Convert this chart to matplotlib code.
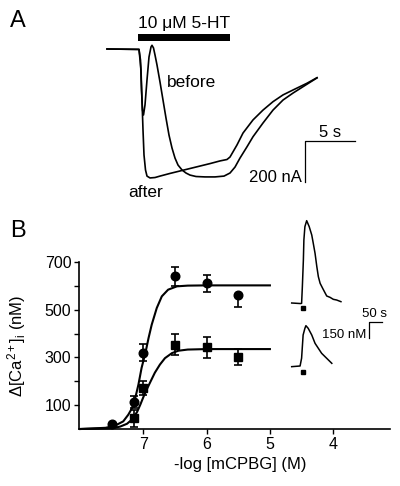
import matplotlib
matplotlib.use("Agg")
import matplotlib.pyplot as plt

plt.rcParams["font.family"] = ["Liberation Sans", "DejaVu Sans"]
plt.rcParams["mathtext.fontset"] = "custom"
plt.rcParams["mathtext.rm"] = "Liberation Sans"
plt.rcParams["mathtext.it"] = "Liberation Sans:italic"

# --- panel A: 5-HT evoked current before / after (time s, current nA)
t_before = [0.0, 3.2, 3.35, 3.45, 3.55, 3.65, 3.8, 4.0, 4.2, 4.4, 4.5, 4.65, 4.8, 5.0,
            5.3, 5.6, 5.9, 6.2, 6.5, 6.8, 7.1, 7.5, 7.9, 8.3, 8.9, 9.8, 10.8, 11.7,
            12.3, 12.8, 13.3, 14.0, 14.6, 15.6, 16.6, 17.6, 18.6, 19.6, 21.0]
i_before = [0, -2, -54, -200, -298, -322, -273, -151, -39, 10, 18, 5, -29, -78,
            -161, -249, -337, -420, -483, -532, -566, -590, -605, -615, -622, -624, -624, -620,
            -605, -576, -532, -477, -428, -361, -298, -249, -215, -184, -141]
t_after = [0.0, 3.2, 3.4, 3.5, 3.6, 3.7, 3.85, 4.0, 4.3, 4.8, 5.3, 6.3, 7.3, 8.3,
           9.3, 10.3, 11.3, 12.0, 12.3, 13.0, 13.6, 14.6, 15.6, 16.6, 17.6, 18.6, 20.0, 21.0]
i_after = [0, -2, -102, -249, -395, -517, -590, -620, -629, -627, -620, -607, -595, -583,
           -571, -559, -546, -539, -527, -468, -410, -346, -298, -257, -224, -200, -167, -140]
app_on, app_off = 3.1, 12.3   # 5-HT application window (s)

# --- panel B: dose response, -log[mCPBG] vs delta Ca (nM)
conc_circ = [7.5, 7.15, 7.0, 6.5, 6.0, 5.5]
ca_circ = [20, 115, 320, 640, 610, 560]
err_circ_lo = [0, 25, 35, 42, 36, 48]
err_circ_hi = [0, 25, 35, 40, 36, 0]
conc_sq = [7.15, 7.0, 6.5, 6.0, 5.5]
ca_sq = [45, 172, 354, 342, 302]
err_sq = [35, 28, 45, 45, 33]

fit_p_circ = [8.0, 7.6, 7.45, 7.32, 7.24, 7.18, 7.13, 7.08, 7.03, 6.97, 6.92, 6.87,
              6.79, 6.71, 6.61, 6.47, 6.3, 6.0, 5.0]
fit_circ = [0, 5, 14, 32, 60, 88, 130, 186, 256, 318, 381, 437,
            507, 556, 584, 598, 601, 602, 602]
fit_p_sq = [8.0, 7.5, 7.37, 7.26, 7.18, 7.10, 7.05, 7.0, 6.95, 6.89, 6.82, 6.74,
            6.66, 6.55, 6.45, 6.3, 6.0, 5.0]
fit_sq = [0, 3, 10, 22, 40, 72, 102, 135, 165, 198, 236, 270,
          297, 318, 328, 333, 335, 335]

# inset Ca transients (time s, nM above baseline)
t_ca_hi = [0, 35, 39, 42, 46, 48, 52, 59, 69, 79, 85, 92, 99, 105, 112, 122, 131, 138,
           151, 164, 177, 194]
ca_hi = [0, -5, -3, 147, 387, 567, 687, 741, 687, 612, 537, 447, 327, 237, 177, 132, 93, 63,
         51, 33, 27, 12]
t_ca_lo = [0, 33, 39, 45, 52, 56, 65, 79, 92, 105, 118, 138, 158]
ca_lo = [0, 6, 76, 285, 345, 369, 345, 285, 210, 165, 120, 75, 30]
stim_t = 43

W, H = 400, 486
fig = plt.figure(figsize=(W / 100, H / 100), dpi=100)


def px_axes(x0, y0, x1, y1):
    return fig.add_axes([x0 / W, 1 - y1 / H, (x1 - x0) / W, (y1 - y0) / H])


# ---------------- panel A
ax_a = px_axes(0, 0, 400, 200)
ax_a.set_xlim(-10.7, 29.3)
ax_a.set_ylim(-736.6, 239)
ax_a.axis("off")
ax_a.plot(t_before, i_before, color="black", lw=1.2)
ax_a.plot(t_after, i_after, color="black", lw=1.2)
ax_a.fill_between([app_on, app_off], 40, 72, color="black", lw=0)
ax_a.text((app_on + app_off) / 2, 101, "10 μM 5-HT", ha="center", va="baseline", fontsize=12.5)
ax_a.text(6.0, -187, "before", ha="left", va="baseline", fontsize=12.5)
ax_a.text(2.1, -722, "after", ha="left", va="baseline", fontsize=12.5)
# scale bar: 5 s, 200 nA
ax_a.plot([24.8, 19.8, 19.8], [-449, -449, -649], color="black", lw=0.9)
ax_a.text(22.3, -428, "5 s", ha="center", va="baseline", fontsize=12)
ax_a.text(19.5, -647, "200 nA", ha="right", va="baseline", fontsize=12)

fig.text(18.3 / W, 1 - 26.7 / H, "A", ha="center", va="baseline", fontsize=17)
fig.text(18.3 / W, 1 - 237.3 / H, "B", ha="center", va="baseline", fontsize=17)

# ---------------- panel B
ax_b = px_axes(79, 262, 390, 429)
ax_b.set_xlim(8.02, 3.1)
ax_b.set_ylim(0, 700)
for s in ("top", "right"):
    ax_b.spines[s].set_visible(False)
for s in ("left", "bottom"):
    ax_b.spines[s].set_linewidth(1.2)
ax_b.plot(fit_p_circ, fit_circ, color="black", lw=1.5, clip_on=False)
ax_b.plot(fit_p_sq, fit_sq, color="black", lw=1.5, clip_on=False)
ax_b.errorbar(conc_circ, ca_circ, yerr=[err_circ_lo, err_circ_hi], fmt="o", color="black",
              ms=6.2, capsize=3.2, elinewidth=1.2, capthick=1.2, clip_on=False)
ax_b.errorbar(conc_sq, ca_sq, yerr=err_sq, fmt="s", color="black",
              ms=6.2, capsize=3.2, elinewidth=1.2, capthick=1.2, clip_on=False)
ax_b.set_yticks(range(100, 800, 100))
ax_b.set_yticklabels(["100", "", "300", "", "500", "", "700"])
ax_b.set_xticks([7, 6, 5, 4])
ax_b.set_xticklabels(["7", "6", "5", "4"])
ax_b.tick_params(direction="out", length=3.5, width=1.0, labelsize=11.5, pad=2)
ax_b.set_xlabel("-log [mCPBG] (M)", fontsize=12)
ax_b.xaxis.set_label_coords(0.518, -0.165)
ax_b.set_ylabel(r"$\Delta$[Ca$^{2+}$]$_{\rm i}$ (nM)", fontsize=12)
ax_b.yaxis.set_label_coords(-0.165, 0.5)

# ---------------- inset Ca transients
ax_c = px_axes(285, 210, 400, 385)
ax_c.set_xlim(-26.4, 426.7)
ax_c.set_ylim(-738, 837)
ax_c.axis("off")
lo_off = -573
ax_c.plot(t_ca_hi, ca_hi, color="black", lw=1.1)
ax_c.plot(t_ca_lo, [c + lo_off for c in ca_lo], color="black", lw=1.1)
ax_c.plot([stim_t, stim_t], [-48, -48 + lo_off], "s", color="black", ms=2.3)
ax_c.plot([354.6, 304.6, 304.6], [-168, -168, -318], color="black", lw=0.9)
ax_c.text(328, -123, "50 s", ha="center", va="baseline", fontsize=9.5)
ax_c.text(294.7, -315, "150 nM", ha="right", va="baseline", fontsize=9.5)

fig.savefig("out.png", dpi=100)
